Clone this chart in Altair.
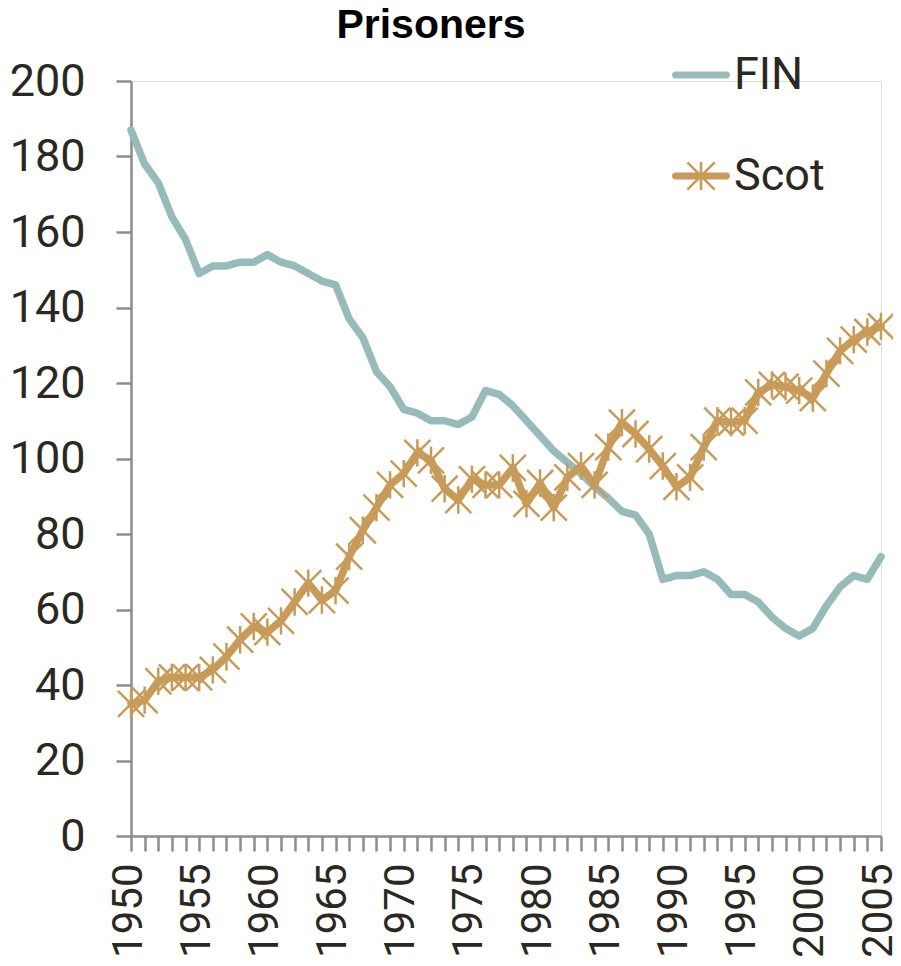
import altair as alt
import pandas as pd

years = list(range(1950, 2006))

fin = [187, 178, 173, 164, 158, 149, 151, 151, 152, 152,
       154, 152, 151, 149, 147, 146, 137, 132, 123, 119,
       113, 112, 110, 110, 109, 111, 118, 117, 114, 110,
       106, 102, 99, 96, 92.5, 89.5, 86, 85, 80, 68,
       69, 69, 70, 68, 64, 64, 62, 58, 55, 53,
       55, 61, 66, 69, 68, 74]

scot = [35, 36, 41, 42, 42, 42, 44, 47.5, 52, 55.5,
        54, 57, 62, 67, 62.5, 65, 74, 81, 87, 93,
        96, 101.5, 99.5, 92, 89, 94.5, 93, 93, 97.5, 88,
        93.5, 87, 95, 98, 93, 103, 109.5, 106.5, 102.5, 98,
        92.5, 95, 103, 110, 109.5, 110, 117.5, 119.5, 119, 118,
        116, 122.5, 128.5, 131.5, 133.5, 135]

series_names = ["FIN", "Scot"]
series_colors = ["#97BBB9", "#C89B58"]
y_ticks = list(range(0, 201, 20))

df = pd.DataFrame({
    "year": years * 2,
    "value": fin + scot,
    "series": ["FIN"] * len(years) + ["Scot"] * len(years),
})

# symbol paths (unit coordinates)
asterisk = "M-1,-1L1,1M-1,1L1,-1M0,-1.05V1.05"
legend_fin = ("M-0.88,-0.12H0.88A0.12,0.12 0 0 1 0.88,0.12"
              "H-0.88A0.12,0.12 0 0 1 -0.88,-0.12Z")
legend_scot = (legend_fin +
               "M-0.045,-0.48H0.045V0.48H-0.045Z"
               "M-0.438,-0.502L0.502,0.438L0.438,0.502L-0.502,-0.438Z"
               "M-0.502,0.438L0.438,-0.502L0.502,-0.438L-0.438,0.502Z")

TXT = "#2B2821"
AX = "#8C8C8C"
FONT = "Roboto"
FS = 45

color_scale = alt.Scale(domain=series_names, range=series_colors)

x_enc = alt.X(
    "year:Q",
    scale=alt.Scale(domain=[1950, 2005], nice=False, zero=False),
    axis=alt.Axis(
        values=years, tickCount=len(years), format="d",
        labelExpr="datum.value % 5 == 0 ? datum.label : ''",
        labelAngle=270, labelAlign="right", labelBaseline="middle",
        labelFontSize=42, labelFont=FONT, labelColor=TXT,
        labelPadding=12, labelOffset=-3, labelOverlap=False, labelFlush=False,
        tickSize=15, tickWidth=2.5, tickColor=AX,
        domainColor=AX, domainWidth=2.5, grid=False, title=None,
    ),
)
y_enc = alt.Y(
    "value:Q",
    scale=alt.Scale(domain=[0, 200], nice=False),
    axis=alt.Axis(
        values=y_ticks, labelFontSize=FS, labelFont=FONT, labelColor=TXT,
        labelPadding=31, tickSize=15, tickWidth=2.5, tickColor=AX,
        domainColor=AX, domainWidth=2.5, grid=False, title=None,
    ),
)

legend_def = alt.Legend(
    title=None, orient="none", legendX=541, legendY=-35,
    direction="vertical", symbolSize=3364, symbolStrokeWidth=0,
    labelFontSize=FS, labelFont=FONT, labelColor=TXT,
    labelOffset=4, rowPadding=49, padding=0, labelLimit=300,
    symbolOpacity=1,
)

legend_layer = alt.Chart(df).transform_filter("false").mark_point(
    filled=True, opacity=1, strokeWidth=0,
).encode(
    x="year:Q", y="value:Q",
    color=alt.Color("series:N", scale=color_scale, legend=legend_def),
    shape=alt.Shape(
        "series:N",
        scale=alt.Scale(domain=series_names, range=[legend_fin, legend_scot]),
        legend=legend_def,
    ),
)

lines = alt.Chart(df).mark_line(strokeWidth=7.5, strokeCap="round", strokeJoin="round").encode(
    x=x_enc, y=y_enc,
    color=alt.Color("series:N", scale=color_scale, legend=None),
    detail="series:N",
)

markers = alt.Chart(df).transform_filter(alt.datum.series == "Scot").mark_point(
    shape=asterisk, filled=False, strokeWidth=2.5, size=680, opacity=1,
).encode(
    x="year:Q", y="value:Q",
    color=alt.Color("series:N", scale=color_scale, legend=None),
)

chart = alt.layer(legend_layer, lines, markers).resolve_legend(
    color="independent", shape="independent"
).properties(
    width=750, height=755,
    padding={"left": 123, "top": 73, "right": 12, "bottom": 122},
    autosize=alt.AutoSizeParams(type="none"),
    title=alt.TitleParams(
        "Prisoners", font="Liberation Sans", fontSize=41, fontWeight="bold",
        color="#000000", anchor="middle", dx=-75, dy=33, baseline="alphabetic",
        offset=0,
    ),
).configure_view(stroke=None).configure(background="white")

chart.save("out.html", embed_options={"renderer": "svg", "actions": False})
